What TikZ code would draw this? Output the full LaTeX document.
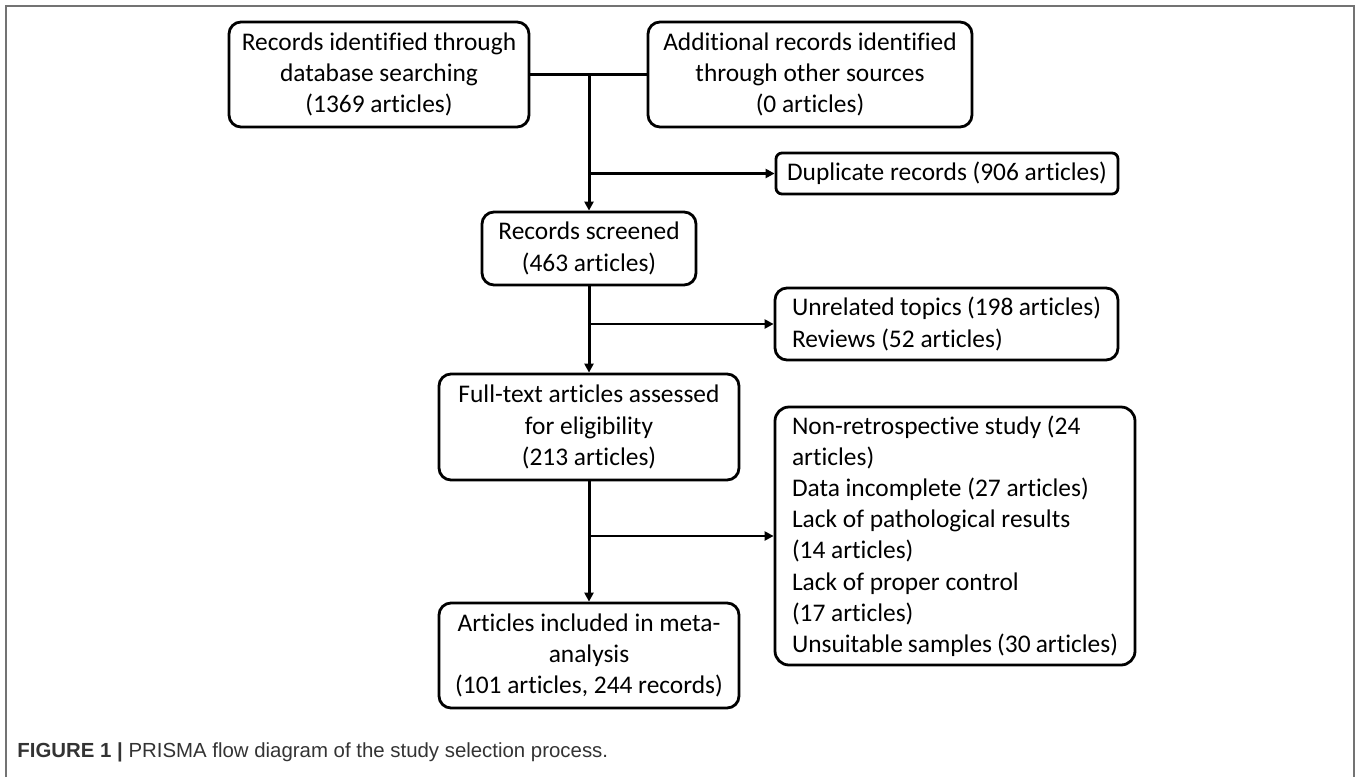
\documentclass[tikz,border=0pt]{standalone}
\usepackage{fontspec}
\setmainfont{Carlito}[Ligatures=NoCommon]
\newfontfamily\capfont{Liberation Sans}
\usetikzlibrary{arrows.meta,positioning}

\begin{document}
\begin{tikzpicture}[x=0.5pt,y=-0.5pt,
box/.style={rectangle, draw, rounded corners=6pt, line width=1.4pt, align=center, inner sep=0pt, font=\fontsize{12.7}{15.6}\selectfont},
sidebox/.style={box, align=flush left, inner xsep=8.5pt},
arrow/.style={-{Triangle[length=4.5pt,width=4.5pt]}, line width=1.5pt},
branch/.style={-{Triangle[length=4.5pt,width=4.5pt]}, line width=1.4pt}
]
\useasboundingbox (0,0) rectangle (1358,777);

% frame
\draw[black!55, line width=0.8pt] (6,777) -- (6,6) -- (1354,6) -- (1354,777);

% Identification
\node[box, minimum width=150pt, minimum height=52.5pt] (ident) at (379,74.5) {Records identified through\\database searching\\(1369 articles)};
\node[box, minimum width=162pt, minimum height=52.5pt] (other) at (810,74.5) {Additional records identified\\through other sources\\(0 articles)};
\node[box, rounded corners=3pt, minimum width=171pt, minimum height=20.5pt] (dup) at (947,173.5) {Duplicate records (906 articles)};

% Screening
\node[box, minimum width=107pt, minimum height=36.5pt] (screen) at (589,248.5) {Records screened\\(463 articles)};
\node[sidebox, text width=154.5pt, minimum height=36pt] (unrel) at (946.5,324) {Unrelated topics (198 articles)\\Reviews (52 articles)};

% Eligibility
\node[box, minimum width=150pt, minimum height=53pt] (full) at (589,427) {Full-text articles assessed\\for eligibility\\(213 articles)};
\node[sidebox, rounded corners=7pt, text width=163pt, minimum height=129pt] (excl) at (955,536) {Non-retrospective study (24\\articles)\\Data incomplete (27 articles)\\Lack of pathological results\\(14 articles)\\Lack of proper control\\(17 articles)\\Unsuitable samples (30 articles)};

% Included
\node[box, minimum width=150pt, minimum height=52.5pt] (incl) at (589,655.5) {Articles included in meta-\\analysis\\(101 articles, 244 records)};

% Arrows
\coordinate (merge) at (589,74.5);
\coordinate (out1) at (589,173.5);
\coordinate (out2) at (589,324);
\coordinate (out3) at (589,536);
\draw[line width=1.8pt] (ident) -- (other);
\draw[arrow] (merge) -- (screen);
\draw[branch] (out1) -- (dup);
\draw[arrow] (screen) -- (full);
\draw[branch] (out2) -- (unrel);
\draw[arrow] (full) -- (incl);
\draw[branch] (out3) -- (excl);

% Caption
\node[anchor=west, inner sep=0pt, text=black!80, font=\capfont\fontsize{10.2}{12}\selectfont] (caption) at (17,752) {\textbf{FIGURE 1 |} PRISMA flow diagram of the study selection process.};

\end{tikzpicture}
\end{document}
